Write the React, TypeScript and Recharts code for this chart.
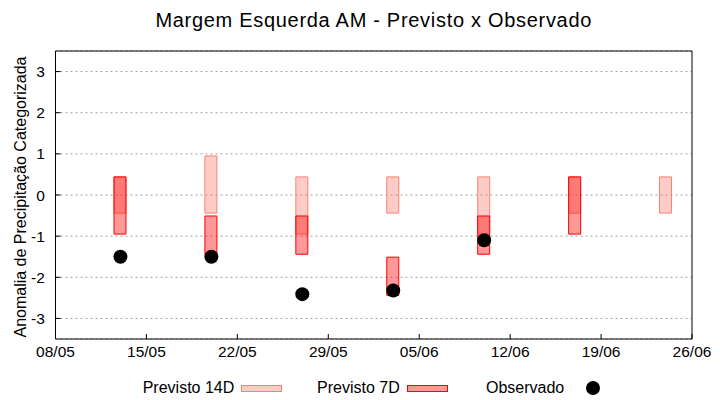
import { Bar, CartesianGrid, ComposedChart, Legend, Scatter, XAxis, YAxis } from "recharts";

// dates of the weekly forecasts (dd/mm)
const FORECAST_DATES = ["13/05", "20/05", "27/05", "03/06", "10/06", "17/06", "24/06"];
// categorized anomaly ranges [low, high]
const PREVISTO_14D: [number, number][] = [
  [-0.44, 0.44],
  [-0.44, 0.95],
  [-0.95, 0.44],
  [-0.44, 0.44],
  [-0.95, 0.44],
  [-0.44, 0.44],
  [-0.44, 0.44],
];
const PREVISTO_7D: ([number, number] | null)[] = [
  [-0.95, 0.44],
  [-1.44, -0.51],
  [-1.44, -0.51],
  [-2.44, -1.51],
  [-1.44, -0.51],
  [-0.95, 0.44],
  null,
];
const OBS_DATES = ["13/05", "20/05", "27/05", "03/06", "10/06"];
const OBSERVADO = [-1.5, -1.5, -2.41, -2.32, -1.1];

const X_TICK_LABELS = ["08/05", "15/05", "22/05", "29/05", "05/06", "12/06", "19/06", "26/06"];
const Y_TICKS = [-3, -2, -1, 0, 1, 2, 3];
const LEGEND_LABELS = ["Previsto 14D", "Previsto 7D", "Observado"];

const FONT = "'Liberation Sans', Arial, sans-serif";
const C14 = "#fa8072";
const C7 = "#ff0000";

function dayOffset(s: string): number {
  const [d, m] = s.split("/").map(Number);
  const [d0, m0] = X_TICK_LABELS[0].split("/").map(Number);
  return Math.round((Date.UTC(2021, m - 1, d) - Date.UTC(2021, m0 - 1, d0)) / 86400000);
}

const X_TICKS = X_TICK_LABELS.map(dayOffset);

const data = FORECAST_DATES.map((d, i) => ({
  day: dayOffset(d),
  p14: PREVISTO_14D[i],
  p7: PREVISTO_7D[i],
}));

const obsData = OBS_DATES.map((d, i) => ({ day: dayOffset(d), obs: OBSERVADO[i] }));

const tickStyle = { fontSize: 15.5, fill: "#000", fontFamily: FONT };

function renderLegend() {
  return (
    <svg width={720} height={30} style={{ display: "block" }}>
      <g fontFamily={FONT} fontSize={16} fill="#000">
        <text x={142.7} y={22.5}>{LEGEND_LABELS[0]}</text>
        <rect x={241.5} y={15.5} width={40} height={6} fill={C14} fillOpacity={0.4} stroke={C14} />
        <text x={317} y={22.5}>{LEGEND_LABELS[1]}</text>
        <rect x={407.5} y={15.5} width={40} height={6} fill={C7} fillOpacity={0.4} stroke={C7} />
        <text x={486} y={22.5}>{LEGEND_LABELS[2]}</text>
        <circle cx={593} cy={18} r={7} fill="#000" />
      </g>
    </svg>
  );
}

export default function App() {
  return (
    <div style={{ position: "absolute", left: 0, top: 0, width: 720, height: 400, background: "#fff" }}>
      <div
        style={{
          position: "absolute",
          left: 55.5,
          width: 636.5,
          top: 10.4,
          textAlign: "center",
          fontFamily: FONT,
          fontSize: 20,
          lineHeight: "20px",
          letterSpacing: 0.7,
          color: "#000",
        }}
      >
        Margem Esquerda AM - Previsto x Observado
      </div>
      <ComposedChart
        width={720}
        height={400}
        data={data}
        margin={{ top: 50, right: 27, bottom: 0, left: 0 }}
      >
        <CartesianGrid
          vertical={false}
          stroke="#a0a0a0"
          strokeDasharray="2 3"
          xAxisId="main"
          yAxisId="left"
        />
        <XAxis
          xAxisId="main"
          dataKey="day"
          type="number"
          domain={[0, 49]}
          ticks={X_TICKS}
          tickFormatter={(v: number) => X_TICK_LABELS[X_TICKS.indexOf(v)] ?? ""}
          interval={0}
          height={31}
          tickSize={-5}
          tickMargin={12}
          tick={tickStyle}
          axisLine={{ stroke: "#000" }}
          tickLine={{ stroke: "#000" }}
          allowDataOverflow
        />
        <XAxis
          xAxisId="top"
          orientation="top"
          dataKey="day"
          type="number"
          domain={[0, 49]}
          ticks={X_TICKS}
          interval={0}
          height={1}
          tickSize={-5}
          tick={false}
          axisLine={{ stroke: "#000" }}
          tickLine={{ stroke: "#000" }}
        />
        <XAxis xAxisId="overlay" dataKey="day" type="number" domain={[0, 49]} hide />
        <YAxis
          yAxisId="left"
          type="number"
          domain={[-3.5, 3.5]}
          ticks={Y_TICKS}
          interval={0}
          width={55.5}
          tickSize={-5}
          tickMargin={15.7}
          tick={tickStyle}
          axisLine={{ stroke: "#000" }}
          tickLine={{ stroke: "#000" }}
          allowDataOverflow
          label={{
            value: "Anomalia de Precipitação Categorizada",
            angle: -90,
            position: "center",
            dx: -7,
            dy: 2,
            style: { fontSize: 16, fill: "#000", fontFamily: FONT },
          }}
        />
        <YAxis
          yAxisId="right"
          orientation="right"
          type="number"
          domain={[-3.5, 3.5]}
          ticks={Y_TICKS}
          interval={0}
          width={1}
          tickSize={-5}
          tick={false}
          axisLine={{ stroke: "#000" }}
          tickLine={{ stroke: "#000" }}
        />
        <Bar
          xAxisId="main"
          yAxisId="left"
          dataKey="p14"
          barSize={12}
          fill={C14}
          fillOpacity={0.4}
          stroke={C14}
          strokeWidth={1}
          isAnimationActive={false}
        />
        <Bar
          xAxisId="overlay"
          yAxisId="left"
          dataKey="p7"
          barSize={12}
          fill={C7}
          fillOpacity={0.4}
          stroke={C7}
          strokeWidth={1}
          isAnimationActive={false}
        />
        <Scatter
          xAxisId="main"
          yAxisId="left"
          data={obsData}
          dataKey="obs"
          fill="#000"
          isAnimationActive={false}
          shape={(p: any) => <circle cx={p.cx} cy={p.cy} r={7} fill="#000" />}
        />
        <Legend
          content={renderLegend}
          wrapperStyle={{ position: "absolute", left: 0, top: 370, width: 720, height: 30, margin: 0, padding: 0 }}
        />
      </ComposedChart>
    </div>
  );
}
